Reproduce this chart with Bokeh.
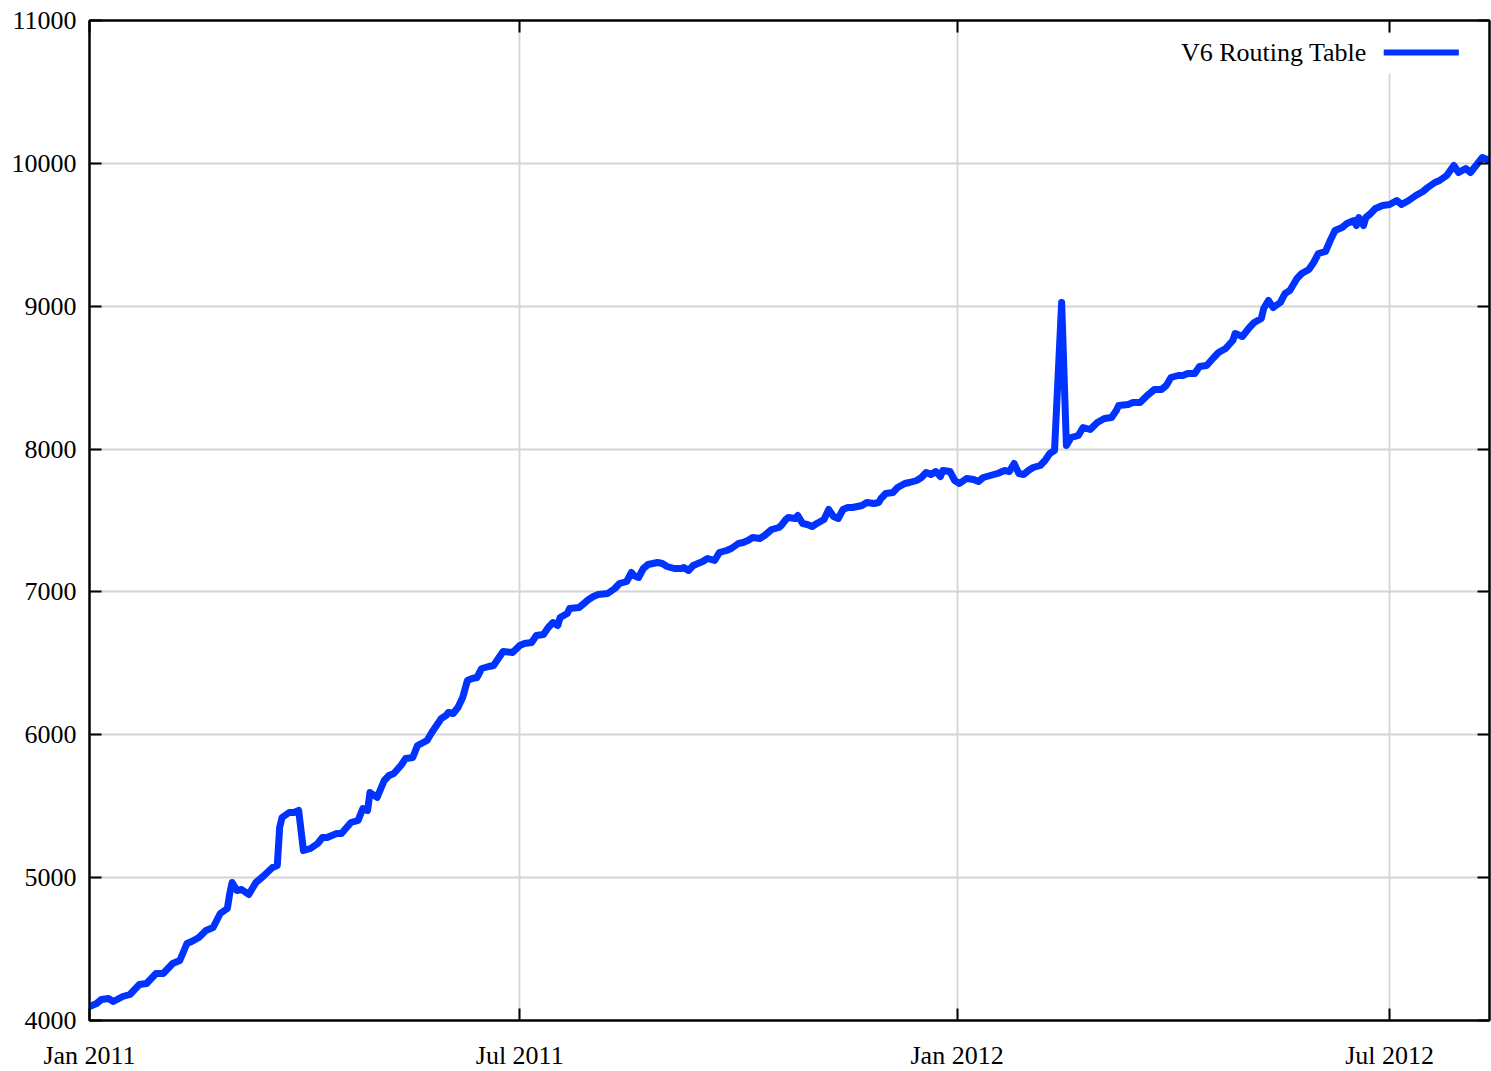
import pandas as pd
from bokeh.plotting import figure
from bokeh.models import (Range1d, FixedTicker, LinearAxis, DatetimeAxis,
                          Label, BoxAnnotation, ColumnDataSource)
from bokeh.embed import file_html
from bokeh.resources import INLINE

# ---------------- data ----------------
start_date = "2011-01-01"
end_date = "2012-08-12"

day_offsets = [0, 3, 5, 8, 10, 14, 17, 21, 24, 28, 31, 35, 38, 41, 43, 46, 49, 52, 55, 58,
               59, 60, 62, 64, 67, 70, 73, 77, 79, 80, 81, 84, 86, 88, 90, 93, 96, 98, 100, 104,
               106, 110, 113, 115, 117, 118, 121, 124, 126, 128, 131, 133, 136, 138, 142, 144, 146, 148, 150, 151,
               153, 155, 157, 159, 161, 163, 165, 168, 170, 172, 174, 178, 181, 183, 186, 188, 191, 193, 195, 197,
               198, 201, 202, 206, 208, 210, 212, 214, 218, 221, 223, 226, 228, 229, 231, 233, 235, 237, 239, 241,
               243, 246, 249, 250, 252, 254, 256, 258, 260, 263, 265, 268, 270, 273, 275, 277, 279, 282, 284, 287,
               290, 291, 293, 294, 297, 298, 300, 302, 304, 306, 309, 311, 313, 315, 317, 319, 321, 323, 325, 327,
               330, 332, 333, 335, 338, 340, 343, 345, 348, 350, 352, 354, 356, 358, 359, 362, 364, 366, 369, 372,
               374, 376, 379, 382, 385, 387, 389, 391, 393, 395, 397, 400, 402, 404, 406, 409, 411, 413, 416, 418,
               421, 424, 427, 430, 432, 433, 437, 439, 442, 445, 448, 451, 453, 455, 458, 460, 462, 465, 467, 470,
               473, 475, 478, 481, 482, 485, 488, 490, 493, 494, 496, 498, 501, 503, 505, 508, 510, 513, 515, 517,
               520, 522, 524, 527, 529, 532, 533, 534, 536, 537, 539, 541, 544, 547, 550, 552, 555, 558, 561, 563,
               566, 568, 571, 574, 576, 579, 581, 584, 586, 588]

table_sizes = [4098, 4119, 4147, 4154, 4133, 4168, 4182, 4252, 4259, 4329, 4329, 4399, 4420, 4539, 4553, 4581, 4630, 4651, 4749, 4784,
               4889, 4966, 4910, 4917, 4882, 4966, 5008, 5071, 5085, 5351, 5421, 5456, 5456, 5470, 5190, 5204, 5239, 5281, 5281, 5309,
               5309, 5386, 5400, 5484, 5470, 5596, 5561, 5680, 5715, 5729, 5785, 5834, 5841, 5925, 5960, 6016, 6065, 6114, 6135, 6156,
               6149, 6191, 6261, 6380, 6394, 6401, 6464, 6478, 6485, 6534, 6583, 6576, 6625, 6639, 6646, 6695, 6702, 6751, 6786, 6765,
               6821, 6849, 6884, 6891, 6919, 6947, 6968, 6982, 6989, 7024, 7059, 7073, 7136, 7115, 7101, 7164, 7192, 7199, 7206, 7199,
               7178, 7164, 7164, 7171, 7150, 7185, 7199, 7213, 7234, 7220, 7276, 7290, 7304, 7339, 7346, 7360, 7381, 7374, 7395, 7437,
               7451, 7465, 7507, 7521, 7514, 7535, 7479, 7472, 7458, 7479, 7507, 7577, 7528, 7514, 7577, 7591, 7591, 7598, 7605, 7626,
               7619, 7626, 7654, 7689, 7696, 7731, 7759, 7766, 7780, 7801, 7836, 7822, 7843, 7808, 7850, 7843, 7780, 7759, 7794, 7787,
               7773, 7801, 7815, 7829, 7850, 7843, 7899, 7829, 7822, 7850, 7871, 7885, 7920, 7969, 7990, 9026, 8025, 8081, 8095, 8151,
               8137, 8186, 8214, 8221, 8270, 8305, 8312, 8326, 8326, 8375, 8417, 8417, 8445, 8501, 8515, 8515, 8529, 8529, 8578, 8585,
               8641, 8676, 8704, 8760, 8809, 8788, 8851, 8886, 8914, 8984, 9040, 8991, 9026, 9089, 9110, 9194, 9229, 9257, 9306, 9369,
               9383, 9460, 9530, 9551, 9579, 9600, 9565, 9621, 9565, 9621, 9649, 9684, 9705, 9712, 9740, 9712, 9740, 9775, 9803, 9831,
               9866, 9880, 9915, 9985, 9936, 9964, 9936, 9999, 10041, 10027]

assert len(day_offsets) == len(table_sizes)

series_name = "V6 Routing Table"
x_tick_dates = ["2011-01-01", "2011-07-01", "2012-01-01", "2012-07-01"]
x_tick_labels = ["Jan 2011", "Jul 2011", "Jan 2012", "Jul 2012"]
y_ticks = [4000, 5000, 6000, 7000, 8000, 9000, 10000, 11000]

# ---------------- build ----------------
DAY_MS = 86400000
t0 = pd.Timestamp(start_date)
t0_ms = t0.value // 10**6
dates = t0 + pd.to_timedelta(day_offsets, unit="D")
src = ColumnDataSource(dict(date=dates, size=table_sizes))

x_tick_ms = [pd.Timestamp(d).value // 10**6 for d in x_tick_dates]

FONT = "Liberation Serif"
FS = "26px"
BLUE = "#0033ff"

p = figure(frame_width=1400, frame_height=1000, x_axis_type="datetime",
           x_range=Range1d(t0, pd.Timestamp(end_date)),
           y_range=Range1d(y_ticks[0], y_ticks[-1]),
           output_backend="svg", toolbar_location=None,
           min_border_left=89, min_border_top=20, min_border_right=2, min_border_bottom=10)

p.background_fill_color = "white"
p.border_fill_color = "white"
p.outline_line_color = "black"
p.outline_line_width = 2

x_ticker = FixedTicker(ticks=x_tick_ms)
y_ticker = FixedTicker(ticks=y_ticks)

p.add_layout(DatetimeAxis(), "above")
p.add_layout(LinearAxis(), "right")

for ax in p.xaxis:
    ax.ticker = x_ticker
    ax.major_label_overrides = {ms: lab for ms, lab in zip(x_tick_ms, x_tick_labels)}
for ax in p.yaxis:
    ax.ticker = y_ticker

for ax in list(p.xaxis) + list(p.yaxis):
    ax.axis_line_color = "black"
    ax.axis_line_width = 2
    ax.major_tick_line_color = "black"
    ax.major_tick_line_width = 2
    ax.major_tick_in = 12
    ax.major_tick_out = 0
    ax.minor_tick_line_color = None
    ax.major_label_text_font = FONT
    ax.major_label_text_font_size = FS
    ax.major_label_text_color = "black"

p.below[0].major_label_standoff = 20
p.left[0].major_label_standoff = 13
for ax in (p.above[0], p.right[0]):
    ax.major_label_text_font_size = "0px"
    ax.major_label_text_color = None
    ax.major_label_standoff = 0

p.xgrid.ticker = x_ticker
p.ygrid.ticker = y_ticker
p.grid.grid_line_color = "#d4d4d4"
p.grid.grid_line_width = 1.8

p.line("date", "size", source=src, line_color=BLUE, line_width=7,
       line_join="round", line_cap="round")

# legend (text on the left, sample line on the right, gnuplot style)
legend_bg = BoxAnnotation(left=t0_ms + 455 * DAY_MS, right=t0_ms + 581 * DAY_MS,
                          bottom=10629, top=10909, fill_color="white", fill_alpha=1.0,
                          line_color=None, level="underlay")
p.add_layout(legend_bg)
legend_sample = BoxAnnotation(left=t0_ms + 544.5 * DAY_MS, right=t0_ms + 576.1 * DAY_MS,
                              bottom=10755, top=10797, fill_color=BLUE, fill_alpha=1.0,
                              line_color=None)
p.add_layout(legend_sample)
legend_text = Label(x=t0_ms + 537.4 * DAY_MS, y=10776, text=series_name,
                    text_align="right", text_baseline="middle",
                    text_font=FONT, text_font_size=FS, text_color="black")
p.add_layout(legend_text)

open("out.html", "w").write(file_html(p, INLINE))
